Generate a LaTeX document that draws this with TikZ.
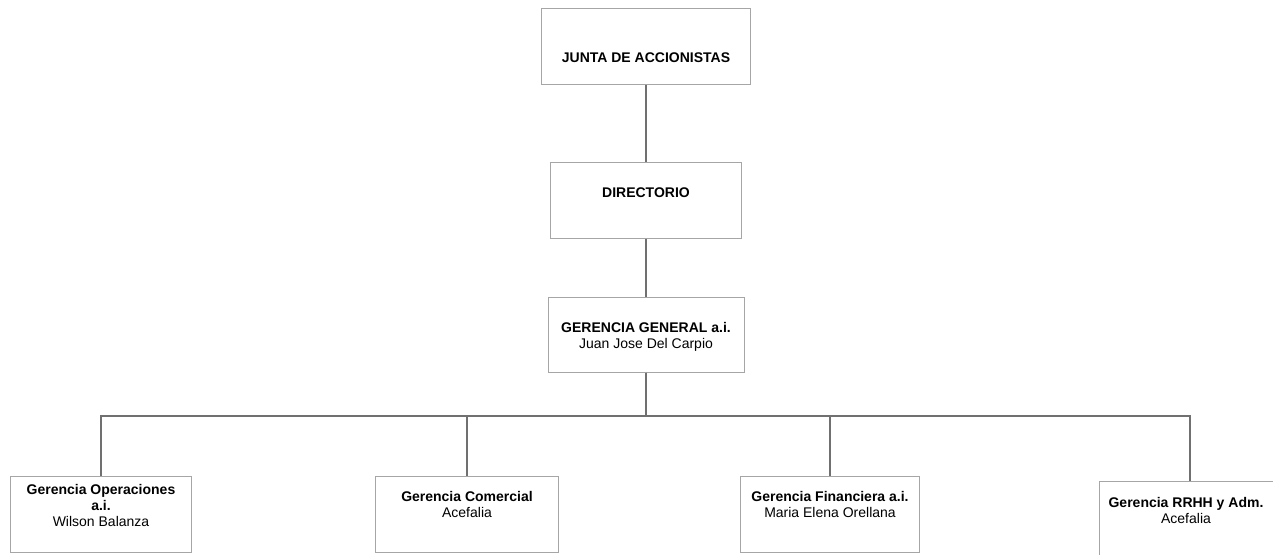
\documentclass[tikz,border=0pt]{standalone}
\usepackage{fontspec}
\setmainfont{Liberation Sans}
\usepackage{tikz}
\usetikzlibrary{positioning}
\definecolor{borde}{HTML}{A6A6A6}
\definecolor{conector}{HTML}{707070}
\tikzset{
    caja/.style={draw=borde, line width=1pt, fill=white, inner sep=0pt},
    texto/.style={align=center, font=\fontsize{14}{16}\selectfont, inner sep=0pt},
    linea/.style={draw=conector, line width=1.5pt},
}

\begin{document}
\begin{tikzpicture}[x=1pt,y=-1pt]
\clip (0,0) rectangle (1273,554);
\fill[white] (0,0) rectangle (1273,554);

\node[caja, minimum width=209pt, minimum height=76pt] (junta) at (646,46) {};
\node[caja, minimum width=191pt, minimum height=76pt] (directorio) at (646,200) {};
\node[caja, minimum width=196pt, minimum height=75pt] (gerencia) at (646,334.5) {};
\node[caja, minimum width=181pt, minimum height=76pt] (oper) at (101,514) {};
\node[caja, minimum width=183pt, minimum height=76pt] (comer) at (467,514) {};
\node[caja, minimum width=179pt, minimum height=76pt] (finan) at (830,514) {};
\node[caja, minimum width=181pt, minimum height=76pt] (rrhh) at (1190,519) {};

\node[texto] (juntat) at ([yshift=-12pt]junta.center) {\textbf{JUNTA DE ACCIONISTAS}};
\node[texto] (directoriot) at ([yshift=7pt]directorio.center) {\textbf{DIRECTORIO}};
\node[texto] (gerenciat) at ([yshift=-2pt]gerencia.center) {\textbf{GERENCIA GENERAL a.i.}\\Juan Jose Del Carpio};
\node[texto] (opert) at ([yshift=9pt]oper.center) {\textbf{Gerencia Operaciones}\\\textbf{a.i.}\\Wilson Balanza};
\node[texto] (comert) at ([yshift=9.5pt]comer.center) {\textbf{Gerencia Comercial}\\Acefalia};
\node[texto] (finant) at ([yshift=10pt]finan.center) {\textbf{Gerencia Financiera a.i.}\\Maria Elena Orellana};
\node[texto] (rrhht) at ([xshift=-4pt,yshift=9pt]rrhh.center) {\textbf{Gerencia RRHH y Adm.}\\Acefalia};

\draw[linea] (junta.south) -- (directorio.north);
\draw[linea] (directorio.south) -- (gerencia.north);
\foreach \n in {oper,comer,finan,rrhh}
    \draw[linea] (gerencia.south) -- ++(0,43.5) -| (\n.north);
\end{tikzpicture}
\end{document}
